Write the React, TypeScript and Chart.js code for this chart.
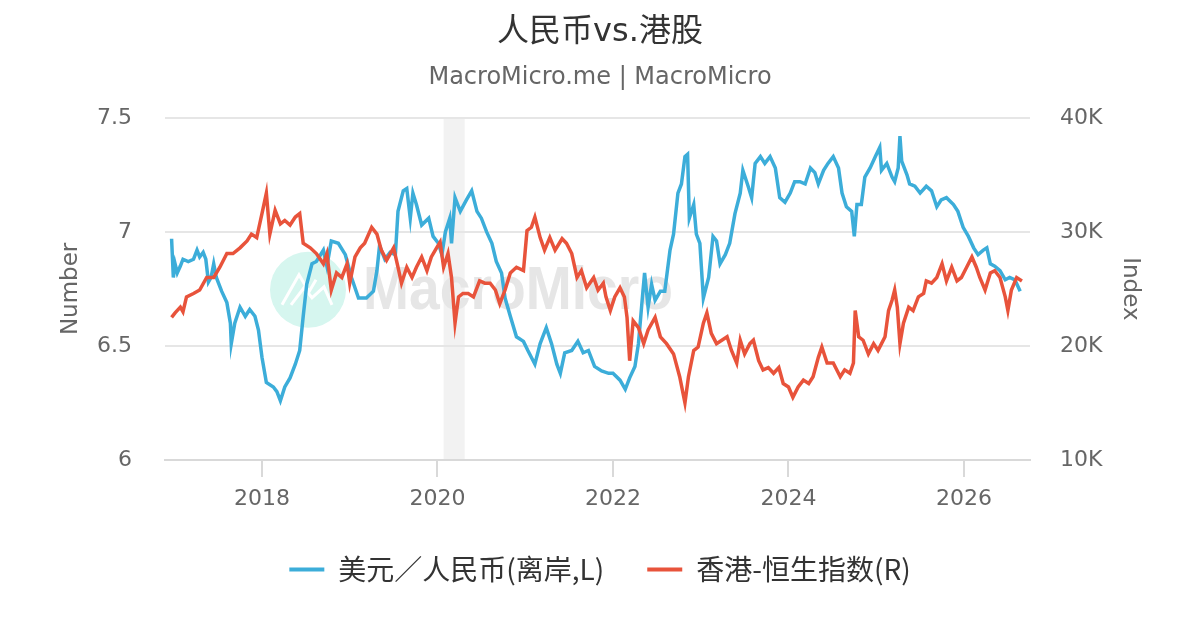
import { useEffect, useRef } from "react";
import { Chart, registerables } from "chart.js";

Chart.register(...registerables);

const FONT = "'DejaVu Sans', 'Noto Sans CJK SC', sans-serif";
const CJK_FONT = "'Noto Sans CJK SC', 'DejaVu Sans', sans-serif";
const BLUE = "#3cadd9";
const RED = "#e8533b";

const chartTitle = "人民币vs.港股";
const chartSubtitle = "MacroMicro.me | MacroMicro";
const cnyLabel = "美元／人民币(离岸,L)";
const hsiLabel = "香港-恒生指数(R)";

// x values are decimal years
const yearTicks = [2018, 2020, 2022, 2024, 2026];
const leftTicks = [6, 6.5, 7, 7.5];
const rightTicks = [10000, 20000, 30000, 40000];
const recessionBand = [2020.07, 2020.31];

// USD/CNH (offshore), left axis
const cnyDates = [
  2016.97, 2016.99, 2017.01, 2017.035, 2017.07, 2017.1, 2017.16, 2017.22, 2017.26, 2017.29,
  2017.33, 2017.36, 2017.39, 2017.42, 2017.45, 2017.48, 2017.54, 2017.6, 2017.64, 2017.65,
  2017.69, 2017.75, 2017.81, 2017.86, 2017.92, 2017.96, 2018.0, 2018.05, 2018.13, 2018.17,
  2018.21, 2018.26, 2018.32, 2018.38, 2018.43, 2018.47, 2018.51, 2018.57, 2018.62, 2018.7,
  2018.74, 2018.79, 2018.87, 2018.95, 2019.02, 2019.1, 2019.19, 2019.27, 2019.31, 2019.34,
  2019.4, 2019.46, 2019.52, 2019.55, 2019.61, 2019.65, 2019.69, 2019.72, 2019.76, 2019.82,
  2019.9, 2019.95, 2020.01, 2020.05, 2020.09, 2020.14, 2020.16, 2020.2, 2020.26, 2020.33,
  2020.39, 2020.45, 2020.5, 2020.56, 2020.62, 2020.67, 2020.73, 2020.77, 2020.83, 2020.9,
  2020.98, 2021.03, 2021.11, 2021.17, 2021.24, 2021.3, 2021.36, 2021.4, 2021.45, 2021.53,
  2021.6, 2021.66, 2021.72, 2021.79, 2021.87, 2021.95, 2022.0, 2022.08, 2022.14, 2022.19,
  2022.25, 2022.29, 2022.33, 2022.36, 2022.4, 2022.44, 2022.48, 2022.54, 2022.59, 2022.65,
  2022.69, 2022.74, 2022.78, 2022.82, 2022.85, 2022.87, 2022.92, 2022.95, 2022.99, 2023.03,
  2023.09, 2023.14, 2023.18, 2023.22, 2023.28, 2023.33, 2023.39, 2023.45, 2023.48, 2023.54,
  2023.58, 2023.62, 2023.68, 2023.73, 2023.79, 2023.85, 2023.9, 2023.96, 2024.02, 2024.07,
  2024.13, 2024.19, 2024.25, 2024.3, 2024.34, 2024.4, 2024.45, 2024.51, 2024.57, 2024.61,
  2024.66, 2024.72, 2024.75, 2024.78, 2024.83, 2024.87, 2024.93, 2024.99, 2025.04, 2025.06,
  2025.12, 2025.18, 2025.21, 2025.25, 2025.27, 2025.29, 2025.35, 2025.38, 2025.44, 2025.5,
  2025.57, 2025.63, 2025.69, 2025.74, 2025.8, 2025.88, 2025.93, 2025.99, 2026.05, 2026.11,
  2026.16, 2026.22, 2026.26, 2026.3, 2026.35, 2026.41, 2026.47, 2026.52, 2026.58, 2026.64,
];
const cnyValues = [
  6.97, 6.8, 6.86, 6.82, 6.85, 6.88, 6.87, 6.88, 6.92, 6.89,
  6.91, 6.88, 6.78, 6.8, 6.86, 6.8, 6.74, 6.69, 6.6, 6.51,
  6.6, 6.67, 6.63, 6.66, 6.63, 6.57, 6.45, 6.34, 6.32, 6.3,
  6.26, 6.32, 6.36, 6.42, 6.48, 6.63, 6.77, 6.86, 6.87, 6.92,
  6.85, 6.96, 6.95, 6.9, 6.8, 6.71, 6.71, 6.74, 6.83, 6.94,
  6.88, 6.91, 6.9, 7.09, 7.18, 7.19, 7.06, 7.17, 7.12, 7.03,
  7.06, 6.98, 6.95, 6.9, 7.0, 7.06, 6.95, 7.15, 7.09, 7.14,
  7.18, 7.09, 7.06, 7.0, 6.95, 6.87, 6.82, 6.71, 6.63, 6.54,
  6.52, 6.48, 6.42, 6.51, 6.58, 6.51, 6.42, 6.38, 6.47, 6.48,
  6.52, 6.47, 6.48, 6.41, 6.39, 6.38, 6.38, 6.35, 6.31, 6.36,
  6.41, 6.51, 6.69, 6.82, 6.67, 6.77, 6.7, 6.74, 6.74, 6.92,
  6.99, 7.17, 7.21, 7.33, 7.34, 7.06, 7.12, 6.99, 6.95, 6.71,
  6.8, 6.98, 6.96, 6.86, 6.9, 6.95, 7.08, 7.17, 7.27, 7.2,
  7.15, 7.3, 7.33, 7.3, 7.33, 7.28, 7.15, 7.13, 7.17, 7.22,
  7.22, 7.21, 7.28, 7.26, 7.21, 7.27, 7.3, 7.33, 7.28, 7.17,
  7.11, 7.09, 6.98, 7.12, 7.12, 7.24, 7.28, 7.33, 7.37, 7.27,
  7.3, 7.24, 7.22, 7.28, 7.42, 7.31, 7.25, 7.21, 7.2, 7.17,
  7.2, 7.18, 7.11, 7.14, 7.15, 7.12, 7.09, 7.02, 6.98, 6.93,
  6.9, 6.92, 6.93, 6.86, 6.85, 6.83, 6.79, 6.8, 6.79, 6.74,
];

// Hang Seng Index, right axis
const hsiDates = [
  2016.97, 2017.01, 2017.07, 2017.1, 2017.14, 2017.22, 2017.29, 2017.37, 2017.45, 2017.52,
  2017.6, 2017.67, 2017.75, 2017.83, 2017.88, 2017.94, 2018.0, 2018.05, 2018.09, 2018.15,
  2018.21, 2018.26, 2018.32, 2018.38, 2018.43, 2018.47, 2018.55, 2018.62, 2018.7, 2018.74,
  2018.79, 2018.85, 2018.91, 2018.97, 2019.0, 2019.06, 2019.12, 2019.17, 2019.25, 2019.31,
  2019.36, 2019.42, 2019.5, 2019.55, 2019.59, 2019.65, 2019.71, 2019.76, 2019.82, 2019.88,
  2019.93, 2019.99, 2020.03, 2020.07, 2020.12, 2020.16, 2020.2, 2020.24, 2020.29, 2020.35,
  2020.41, 2020.48, 2020.54, 2020.6, 2020.66, 2020.71, 2020.77, 2020.83, 2020.9, 2020.98,
  2021.02, 2021.07, 2021.11, 2021.17, 2021.22, 2021.28, 2021.34, 2021.42, 2021.47, 2021.53,
  2021.59, 2021.64, 2021.7, 2021.78, 2021.83, 2021.89, 2021.92, 2021.97, 2022.02, 2022.08,
  2022.13, 2022.16, 2022.19, 2022.23, 2022.29, 2022.35, 2022.4, 2022.48, 2022.54, 2022.61,
  2022.69, 2022.76, 2022.82, 2022.86, 2022.92, 2022.97, 2023.03, 2023.07, 2023.12, 2023.18,
  2023.24, 2023.3, 2023.35, 2023.41, 2023.45, 2023.5, 2023.56, 2023.6, 2023.66, 2023.71,
  2023.77, 2023.83, 2023.89, 2023.94, 2024.0, 2024.05, 2024.11, 2024.17, 2024.23, 2024.28,
  2024.34, 2024.38, 2024.44, 2024.51, 2024.59, 2024.64, 2024.7, 2024.74, 2024.76, 2024.8,
  2024.85, 2024.91, 2024.97, 2025.02, 2025.06, 2025.1, 2025.14, 2025.18, 2025.21, 2025.24,
  2025.27, 2025.31, 2025.37, 2025.42, 2025.48, 2025.54, 2025.57, 2025.63, 2025.69, 2025.75,
  2025.8, 2025.86, 2025.92, 2025.97, 2026.03, 2026.09, 2026.14, 2026.18, 2026.24, 2026.3,
  2026.35, 2026.41, 2026.47, 2026.5, 2026.54, 2026.6, 2026.66,
];
const hsiValues = [
  22500, 22900, 23400, 23000, 24300, 24600, 24900, 26000, 26000, 26900,
  28100, 28100, 28600, 29200, 29800, 29500, 31600, 33400, 29800, 31900,
  30700, 31000, 30600, 31300, 31600, 29000, 28600, 28100, 27200, 28100,
  24900, 26400, 26000, 27200, 25500, 27800, 28600, 29000, 30400, 29800,
  28400, 27500, 28600, 26900, 25500, 26900, 26000, 26900, 27800, 26600,
  27800, 28600, 29100, 26900, 28100, 26000, 22000, 24300, 24600, 24600,
  24300, 25700, 25500, 25500, 24900, 23700, 24900, 26400, 26900, 26600,
  30100, 30400, 31300, 29500, 28400, 29500, 28400, 29400, 29000, 28100,
  26000, 26600, 25100, 26000, 24900, 25500, 24300, 23100, 24300, 25100,
  24300, 22500, 18700, 22200, 21600, 20200, 21400, 22500, 20800, 20200,
  19300, 17300, 15000, 17300, 19600, 19900, 22000, 22900, 21100, 20200,
  20500, 20800, 19600, 18500, 20500, 19300, 20200, 20500, 18700, 17900,
  18100, 17600, 18100, 16700, 16400, 15500, 16400, 17000, 16700, 17300,
  19000, 19900, 18500, 18500, 17300, 17900, 17600, 18500, 23100, 20800,
  20500, 19300, 20200, 19600, 20200, 20800, 23100, 24000, 24900, 23400,
  20200, 22000, 23400, 23100, 24300, 24600, 25700, 25500, 26000, 27200,
  25700, 26900, 25700, 26000, 26900, 27800, 26900, 26000, 24900, 26400,
  26600, 26000, 24300, 23100, 24900, 26000, 25700,
];

const bandPlugin = {
  id: "recessionBand",
  beforeDraw(chart: Chart) {
    const { ctx, chartArea, scales } = chart;
    const x0 = scales.x.getPixelForValue(recessionBand[0]);
    const x1 = scales.x.getPixelForValue(recessionBand[1]);
    ctx.save();
    ctx.fillStyle = "#f2f2f2";
    ctx.fillRect(x0, chartArea.top, x1 - x0, chartArea.bottom - chartArea.top);
    ctx.restore();
  },
};

const watermarkPlugin = {
  id: "watermark",
  beforeDatasetsDraw(chart: Chart) {
    const { ctx, chartArea } = chart;
    const cx = chartArea.left + 143;
    const cy = chartArea.top + 172;
    ctx.save();
    ctx.fillStyle = "#d6f6ef";
    ctx.beginPath();
    ctx.arc(cx, cy, 38, 0, Math.PI * 2);
    ctx.fill();
    // logo strokes
    ctx.strokeStyle = "#ffffff";
    ctx.lineWidth = 3;
    ctx.beginPath();
    ctx.moveTo(cx - 26, cy + 15);
    ctx.lineTo(cx - 9, cy - 15);
    ctx.lineTo(cx + 1, cy + 2);
    ctx.lineTo(cx + 8, cy - 10);
    ctx.stroke();
    ctx.beginPath();
    ctx.moveTo(cx - 17, cy + 15);
    ctx.lineTo(cx - 4, cy - 2);
    ctx.lineTo(cx + 4, cy + 8);
    ctx.lineTo(cx + 16, cy - 3);
    ctx.lineTo(cx + 24, cy + 15);
    ctx.stroke();
    // wordmark
    const text = "MacroMicro";
    ctx.font = "bold 62px 'Liberation Sans', sans-serif";
    const w = ctx.measureText(text).width;
    ctx.translate(chartArea.left + 198, chartArea.top + 191);
    ctx.scale(310 / w, 1);
    ctx.fillStyle = "#e6e6e6";
    ctx.textBaseline = "alphabetic";
    ctx.fillText(text, 0, 0);
    ctx.restore();
  },
};

export default function App() {
  const canvasRef = useRef<HTMLCanvasElement>(null);
  const chartRef = useRef<Chart | null>(null);

  useEffect(() => {
    document.body.style.margin = "0";
    if (!canvasRef.current) return;

    if (chartRef.current) {
      chartRef.current.destroy();
    }

    const ctx = canvasRef.current.getContext("2d");
    if (!ctx) return;

    const tickFont = { family: FONT, size: 22 };
    const titleFont = { family: FONT, size: 23 };

    chartRef.current = new Chart(ctx, {
      type: "line",
      data: {
        datasets: [
          {
            label: cnyLabel,
            data: cnyDates.map((x, i) => ({ x, y: cnyValues[i] })),
            yAxisID: "left",
            borderColor: BLUE,
            backgroundColor: BLUE,
            borderWidth: 3.5,
            pointRadius: 0,
            tension: 0,
            order: 1,
          },
          {
            label: hsiLabel,
            data: hsiDates.map((x, i) => ({ x, y: hsiValues[i] })),
            yAxisID: "right",
            borderColor: RED,
            backgroundColor: RED,
            borderWidth: 3.5,
            pointRadius: 0,
            tension: 0,
            order: 0,
          },
        ],
      },
      options: {
        animation: false,
        responsive: true,
        maintainAspectRatio: false,
        layout: { padding: { top: 0, right: 0, bottom: 36.5, left: 0 } },
        plugins: {
          title: {
            display: true,
            text: chartTitle,
            color: "#333333",
            font: { family: FONT, size: 32, weight: "normal" },
            padding: { top: 13, bottom: 0 },
          },
          subtitle: {
            display: true,
            text: chartSubtitle,
            color: "#666666",
            font: { family: FONT, size: 24, weight: "normal" },
            padding: { top: 12, bottom: 25.6 },
          },
          legend: {
            position: "bottom",
            labels: {
              boxWidth: 35,
              boxHeight: 4,
              padding: 43,
              color: "#333333",
              font: { family: CJK_FONT, size: 28 },
              sort: (a, b) => (a.datasetIndex ?? 0) - (b.datasetIndex ?? 0),
              generateLabels: (chart) =>
                Chart.defaults.plugins.legend.labels
                  .generateLabels(chart)
                  .map((item) => ({ ...item, lineWidth: 0 })),
            },
          },
          tooltip: { enabled: false },
        },
        scales: {
          x: {
            type: "linear",
            min: 2016.895,
            max: 2026.752,
            afterBuildTicks: (axis) => {
              axis.ticks = yearTicks.map((value) => ({ value }));
            },
            afterFit: (scale) => {
              scale.height = 52.5;
            },
            grid: {
              drawOnChartArea: false,
              drawTicks: true,
              tickLength: 17,
              color: "#d9d9d9",
              lineWidth: 2,
            },
            border: { color: "#d9d9d9", width: 2 },
            ticks: {
              color: "#666666",
              font: tickFont,
              padding: 9,
              maxRotation: 0,
              autoSkip: false,
              callback: (value) => String(value),
            },
          },
          left: {
            type: "linear",
            position: "left",
            min: 6,
            max: 7.5,
            afterBuildTicks: (axis) => {
              axis.ticks = leftTicks.map((value) => ({ value }));
            },
            afterFit: (scale) => {
              scale.width = 165;
            },
            grid: { color: "#e6e6e6", lineWidth: 2, drawTicks: false },
            border: { display: false },
            ticks: {
              color: "#666666",
              font: tickFont,
              padding: 33,
              callback: (value) => String(value),
            },
            title: {
              display: true,
              text: "Number",
              color: "#666666",
              font: titleFont,
              padding: { top: 57, bottom: 0 },
            },
          },
          right: {
            type: "linear",
            position: "right",
            min: 10000,
            max: 40000,
            afterBuildTicks: (axis) => {
              axis.ticks = rightTicks.map((value) => ({ value }));
            },
            afterFit: (scale) => {
              scale.width = 170;
            },
            grid: { display: false, drawTicks: false },
            border: { display: false },
            ticks: {
              color: "#666666",
              font: tickFont,
              padding: 30,
              callback: (value) => `${Number(value) / 1000}K`,
            },
            title: {
              display: true,
              text: "Index",
              color: "#666666",
              font: titleFont,
              padding: { top: 56, bottom: 0 },
            },
          },
        },
      },
      plugins: [bandPlugin, watermarkPlugin],
    });

    return () => {
      if (chartRef.current) {
        chartRef.current.destroy();
        chartRef.current = null;
      }
    };
  }, []);

  return (
    <div style={{ width: 1200, height: 630, position: "relative", background: "#ffffff" }}>
      <canvas ref={canvasRef} />
    </div>
  );
}
